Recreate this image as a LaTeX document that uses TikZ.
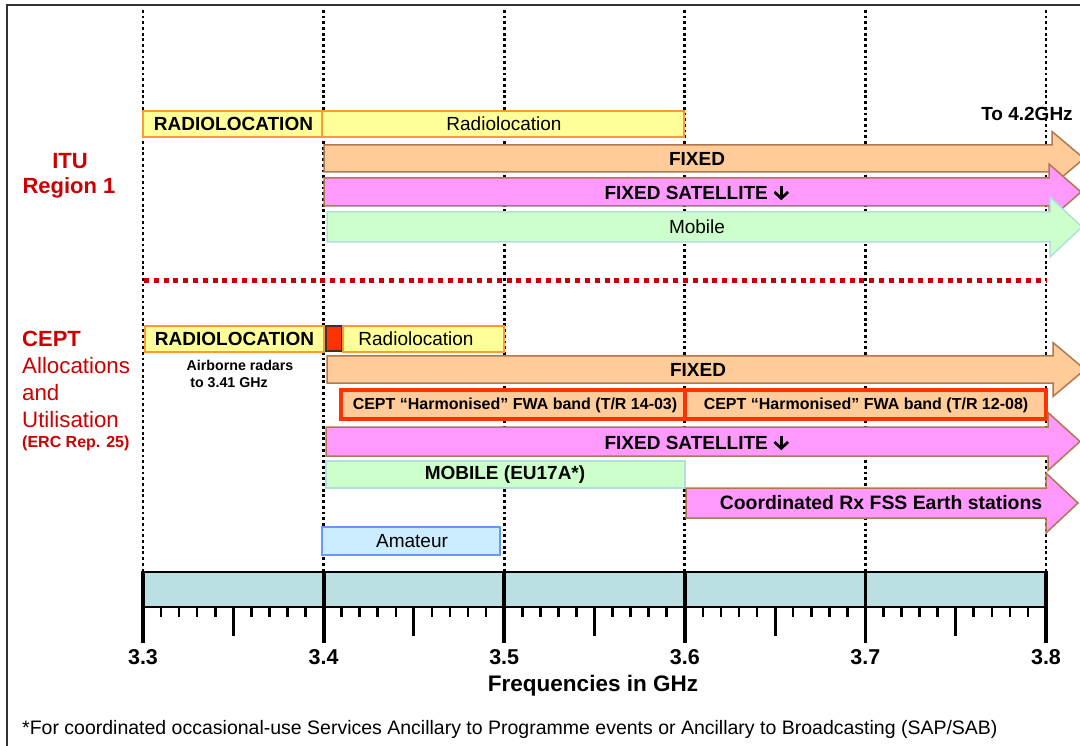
\documentclass[tikz,border=0pt]{standalone}
\usepackage{fontspec}
\setmainfont{Liberation Sans}
\definecolor{radyel}{HTML}{FFFF99}
\definecolor{radbor}{HTML}{FF9933}
\definecolor{fixfill}{HTML}{FFCC99}
\definecolor{fixbor}{HTML}{B07850}
\definecolor{fssfill}{HTML}{FF99FF}
\definecolor{mobfill}{HTML}{CCFFCC}
\definecolor{mobbor}{HTML}{B0E0DC}
\definecolor{fwared}{HTML}{FF3300}
\definecolor{amfill}{HTML}{CCECFF}
\definecolor{ambor}{HTML}{6699FF}
\definecolor{axfill}{HTML}{BBE0E3}
\definecolor{titred}{HTML}{CC0000}
\newcommand{\bandarrow}[5]{%
  \path[#5] (#1,#3) -- (#2,#3) -- (#2,{#3-(#4-#3)/2}) -- ({#2+32},{(#3+#4)/2})
    -- (#2,{#4+(#4-#3)/2}) -- (#2,#4) -- (#1,#4) -- cycle;}
\newcommand{\darr}{\tikz[baseline=0pt,x=1pt,y=1pt,line width=2.7pt]{%
  \path (-8,0) rectangle (8,14);
  \draw[line cap=butt] (0,14)--(0,2);
  \draw[line join=miter] (-6.8,7.6)--(0,1.2)--(6.8,7.6);}}
\begin{document}
\begin{tikzpicture}[x=1pt,y=-1pt,
  bold19/.style={font=\fontsize{19}{22}\selectfont\bfseries, inner sep=0pt},
  reg19/.style={font=\fontsize{19}{22}\selectfont, inner sep=0pt},
  bold16/.style={font=\fontsize{16}{19}\selectfont\bfseries, inner sep=0pt},
  bold14/.style={font=\fontsize{14.2}{17}\selectfont\bfseries, inner sep=0pt},
  titb/.style={font=\fontsize{22}{26}\selectfont\bfseries, text=titred, inner sep=0pt},
  titr/.style={font=\fontsize{22.3}{26}\selectfont, text=titred, inner sep=0pt, anchor=west},
  vdot/.style={line width=2.8pt, dash pattern=on 2.8pt off 2.9pt},
  yelbox/.style={fill=radyel, draw=radbor, line width=1.5pt},
  fixstyle/.style={fill=fixfill, draw=fixbor, line width=1.5pt},
  fssstyle/.style={fill=fssfill, draw=fixbor, line width=1.5pt},
  mobstyle/.style={fill=mobfill, draw=mobbor, line width=1.5pt},
  amstyle/.style={fill=amfill, draw=ambor, line width=1.2pt},
  ticklab/.style={font=\fontsize{21.5}{25}\selectfont\bfseries, inner sep=0pt}
]
\useasboundingbox (0,0) rectangle (1080,746);
\clip (0,0) rectangle (1080,746);
\fill[white] (0,0) rectangle (1080,746);
% frame
\draw[line width=1.5pt, black!80] (7,746) -- (7,5) -- (1085,5);
% vertical dotted lines
\foreach \k in {0,...,5} \draw[vdot] ({143+\k*180.6},10) -- ({143+\k*180.6},572);
% red separator
\draw[titred, line width=5pt, dash pattern=on 5pt off 4.8pt] (144,281) -- (1046,281);

% ---- ITU Region 1 ----
\node[titb] (itu) at (70,161) {ITU};
\node[titb] (reg1) at (69,188) {Region 1};
\path[yelbox] (143,111) rectangle (322,137);
\path[yelbox] (322,111) rectangle (684,137);
\node[bold19] (rl1) at (233.5,124) {RADIOLOCATION};
\node[reg19] (rl2) at (504,124) {Radiolocation};
\node[bold19] (to42) at (1027,114) {To 4.2GHz};
\bandarrow{324}{1052}{145}{172}{fixstyle}
\node[bold19] (fix1) at (697,158.5) {FIXED};
\bandarrow{324}{1049}{178}{206}{fssstyle}
\node[bold19] (fss1) at (697,192) {FIXED SATELLITE \darr};
\bandarrow{327}{1050}{212}{242}{mobstyle}
\node[reg19] (mob1) at (697,227) {Mobile};

% ---- CEPT ----
\node[titb, anchor=west] (cept) at (22,339) {CEPT};
\node[titr] (alloc) at (22,366) {Allocations};
\node[titr] (and) at (22,393) {and};
\node[titr] (util) at (22,420) {Utilisation};
\node[font=\fontsize{16}{19}\selectfont\bfseries, text=titred, inner sep=0pt, anchor=west] (erc) at (22,443) {(ERC Rep. 25)};

\path[yelbox] (145,326) rectangle (324,352);
\node[bold19] (rl3) at (234.5,339) {RADIOLOCATION};
\path[fill=fwared, draw=black!80, line width=1.5pt] (326,326) rectangle (342,351);
\path[yelbox] (343,326) rectangle (504,352);
\node[reg19] (rl4) at (416,339) {Radiolocation};
\node[bold14] (air1) at (240,365) {Airborne radars};
\node[bold14] (air2) at (229,383) {to 3.41 GHz};

\bandarrow{327}{1053}{356}{383}{fixstyle}
\node[bold19] (fix2) at (698,370) {FIXED};

\path[fill=fixfill, draw=fwared, line width=4pt] (341,390) rectangle (1046,419);
\draw[fwared, line width=4pt] (685,390) -- (685,419);
\node[bold16] (fwa1) at (515,405) {CEPT “Harmonised” FWA band (T/R 14-03)};
\node[bold16] (fwa2) at (866,405) {CEPT “Harmonised” FWA band (T/R 12-08)};

\bandarrow{326}{1048}{427}{456}{fssstyle}
\node[bold19] (fss2) at (697,442) {FIXED SATELLITE \darr};

\path[mobstyle] (326,461) rectangle (685,488);
\node[bold19] (mob2) at (505,474.5) {MOBILE (EU17A*)};

\bandarrow{686}{1046}{488}{518}{fssstyle}
\node[font=\fontsize{19.4}{22}\selectfont\bfseries, inner sep=0pt] (coord) at (881,503) {Coordinated Rx FSS Earth stations};

\path[amstyle] (322,527) rectangle (500,555);
\node[reg19] (amat) at (412,541) {Amateur};

% ---- axis ----
\draw[fill=axfill, line width=1.2pt] (143,572) rectangle (1046,607);
\foreach \i in {1,...,49} {
  \pgfmathtruncatemacro\r{mod(\i,10)}
  \ifnum\r=0\relax\else
    \ifnum\r=5\relax
      \draw[line width=3pt] ({143+\i*18.06},607) -- ({143+\i*18.06},636);
    \else
      \draw[line width=2.6pt] ({143+\i*18.06},607) -- ({143+\i*18.06},617);
    \fi
  \fi
}
\foreach \k/\lab in {0/3.3,1/3.4,2/3.5,3/3.6,4/3.7,5/3.8} {
  \draw[line width=3.8pt] ({143+\k*180.6},571) -- ({143+\k*180.6},643);
  \node[ticklab] (t\k) at ({143+\k*180.6},657) {\lab};
}
\node[font=\fontsize{22.5}{26}\selectfont\bfseries, inner sep=0pt] (freq) at (593,686) {Frequencies in GHz};
\node[font=\fontsize{19.5}{23}\selectfont, inner sep=0pt, anchor=west] (foot) at (22,729) {*For coordinated occasional-use Services Ancillary to Programme events or Ancillary to Broadcasting (SAP/SAB)};
\end{tikzpicture}
\end{document}
